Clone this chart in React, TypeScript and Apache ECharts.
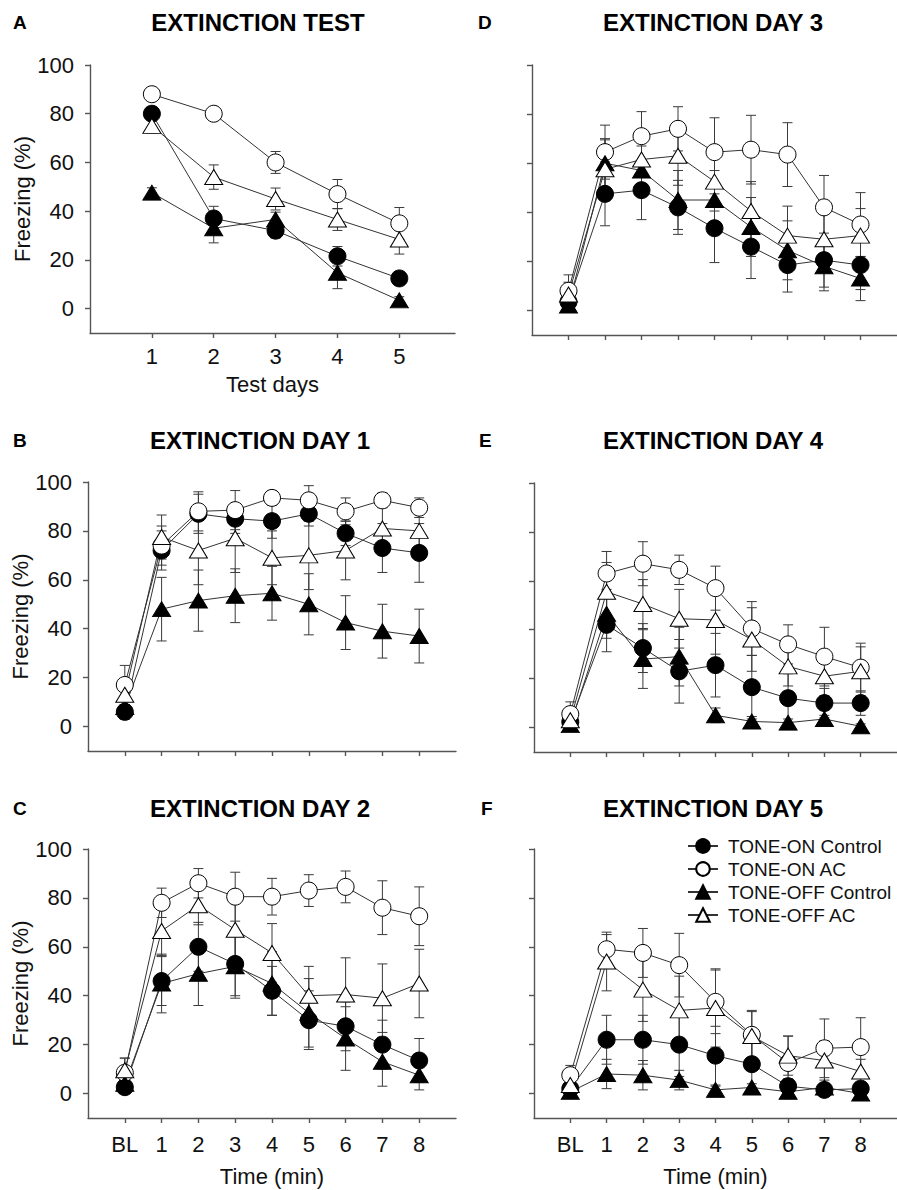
import React, { useEffect, useRef } from "react";
import * as echarts from "echarts";

// ---------- categories / ticks ----------
const testDays = [1, 2, 3, 4, 5];
const minutes = [0, 1, 2, 3, 4, 5, 6, 7, 8]; // 0 = BL
const minuteLabels = ["BL", "1", "2", "3", "4", "5", "6", "7", "8"];
const yTicks = [0, 20, 40, 60, 80, 100];
const seriesNames = ["TONE-ON Control", "TONE-ON AC", "TONE-OFF Control", "TONE-OFF AC"];

// ---------- A: Extinction test ----------
const testOnCtrl = [80, 37, 32, 21.5, 12.4];
const testOnCtrlErr = [2, 5, 3, 4, 2];
const testOnAC = [88, 80, 60, 47, 35];
const testOnACErr = [2, 2, 4.5, 6, 6.5];
const testOffCtrl = [47.6, 33, 36.6, 14.7, 3.4];
const testOffCtrlErr = [2, 6, 3, 6.5, 1.5];
const testOffAC = [75, 54, 45, 36.6, 28.4];
const testOffACErr = [3, 5, 4.5, 4.5, 6];

// ---------- B: Extinction day 1 ----------
const d1OnCtrl = [6, 72, 87, 85, 84, 87, 79, 73, 71];
const d1OnCtrlErr = [3, 8, 8, 6, 7, 5, 5, 10, 12];
const d1OnAC = [17, 74, 88, 88.5, 93.5, 92.5, 88, 92.5, 89.5];
const d1OnACErr = [8, 8, 8, 8, 3, 6, 5.5, 3, 4];
const d1OffCtrl = [8, 48, 51.5, 53.5, 54.5, 50, 42.5, 39, 37];
const d1OffCtrlErr = [3, 13, 12.5, 11, 11, 12.5, 11, 11, 11];
const d1OffAC = [13, 77.5, 72, 77, 69, 70, 72, 81, 80];
const d1OffACErr = [5, 9, 14, 14, 11, 14, 12, 10, 8];

// ---------- C: Extinction day 2 ----------
const d2OnCtrl = [2.6, 46, 60, 53, 42, 30, 27.5, 20, 13.5];
const d2OnCtrlErr = [2, 10, 10, 13, 10, 12, 10, 10, 9];
const d2OnAC = [8.5, 78, 86, 80.5, 80.5, 83, 84.5, 76, 72.5];
const d2OnACErr = [6, 6, 6, 10, 7.5, 6.5, 6.5, 11, 12];
const d2OffCtrl = [4, 45, 49, 52, 45, 33, 22.5, 13, 7.5];
const d2OffCtrlErr = [3, 12, 13, 13, 13, 14, 13, 10, 6];
const d2OffAC = [9.5, 66.5, 77, 67, 57.5, 40, 40.5, 39, 45];
const d2OffACErr = [5, 10, 8, 12, 12, 12, 15, 14, 14];

// ---------- D: Extinction day 3 ----------
const d3OnCtrl = [3.5, 47.5, 49, 42, 33.5, 26, 18.5, 20.5, 18.5];
const d3OnCtrlErr = [3, 13, 12, 11, 14, 13, 11, 11, 10];
const d3OnAC = [8, 64.5, 71, 74, 64.5, 65.5, 63.5, 42, 35];
const d3OnACErr = [6.5, 11, 10, 9, 14, 14, 13, 13, 13];
const d3OffCtrl = [2, 60, 57, 45, 45, 34, 24.5, 18, 13];
const d3OffCtrlErr = [2, 10, 10, 12, 12, 12, 12, 10, 9];
const d3OffAC = [6.5, 57.5, 61.5, 63, 52.5, 40.5, 30.5, 29, 30.5];
const d3OffACErr = [5, 12, 12, 12, 12, 12, 12, 11, 11];

// ---------- E: Extinction day 4 ----------
const d4OnCtrl = [2.3, 42, 32.5, 23, 25.5, 16.5, 12, 10, 10];
const d4OnCtrlErr = [2, 11, 10, 13, 13, 13, 10, 6, 5];
const d4OnAC = [5.5, 63, 67, 64.5, 57, 40.5, 34, 29, 24.5];
const d4OnACErr = [5, 9, 9, 6, 9, 11, 8, 12, 10];
const d4OffCtrl = [1, 46.5, 28, 29, 5, 2.5, 2, 3.5, 0.5];
const d4OffCtrlErr = [1, 10, 12, 12, 3, 2, 1.5, 1.5, 1];
const d4OffAC = [3, 55.5, 50.5, 44.5, 44, 36, 25, 21, 23];
const d4OffACErr = [4, 12, 10, 12, 14, 13, 8, 8, 10];

// ---------- F: Extinction day 5 ----------
const d5OnCtrl = [2, 22, 22, 20, 15.5, 12, 3, 1.5, 2];
const d5OnCtrlErr = [2, 10, 10, 13, 12, 10, 3, 2, 2];
const d5OnAC = [7.5, 59, 57.5, 52.5, 37.5, 24, 12.5, 18.5, 19];
const d5OnACErr = [4, 6, 10, 13, 13, 10, 11, 12, 12];
const d5OffCtrl = [0.7, 8, 7.5, 5.5, 1.5, 2.5, 0.7, 2.5, 0];
const d5OffCtrlErr = [1, 6, 6, 4, 1.5, 1.5, 1, 1.5, 0.5];
const d5OffAC = [3.5, 54, 42.5, 34, 35, 23.5, 15.5, 13.5, 9];
const d5OffACErr = [3, 12, 13, 14, 16, 10, 8, 8, 5];

const FONT = '"Liberation Sans", Arial, sans-serif';

type Panel = {
  letter: string;
  title: string;
  x: number[];
  means: number[][];
  errs: number[][];
  grid: { left: number; top: number; width: number; height: number };
  titleX: number;
  titleY: number;
  letterX: number;
  showYLabels: boolean;
  showXLabels: boolean;
  xName: string;
  xNameGap: number;
  xMin: number;
  xMax: number;
  xLabelMargin: number;
};

const panels: Panel[] = [
  {
    letter: "A", title: "EXTINCTION TEST", x: testDays,
    means: [testOnCtrl, testOnAC, testOffCtrl, testOffAC],
    errs: [testOnCtrlErr, testOnACErr, testOffCtrlErr, testOffACErr],
    grid: { left: 90, top: 65, width: 365, height: 268 },
    titleX: 258, titleY: 22, letterX: 13, showYLabels: true, showXLabels: true,
    xName: "Test days", xNameGap: 40, xMin: 0, xMax: 5.9, xLabelMargin: 12,
  },
  {
    letter: "B", title: "EXTINCTION DAY 1", x: minutes,
    means: [d1OnCtrl, d1OnAC, d1OffCtrl, d1OffAC],
    errs: [d1OnCtrlErr, d1OnACErr, d1OffCtrlErr, d1OffACErr],
    grid: { left: 88, top: 482, width: 368, height: 269 },
    titleX: 260, titleY: 440, letterX: 13, showYLabels: true, showXLabels: false,
    xName: "", xNameGap: 0, xMin: -1, xMax: 9, xLabelMargin: 13,
  },
  {
    letter: "C", title: "EXTINCTION DAY 2", x: minutes,
    means: [d2OnCtrl, d2OnAC, d2OffCtrl, d2OffAC],
    errs: [d2OnCtrlErr, d2OnACErr, d2OffCtrlErr, d2OffACErr],
    grid: { left: 88, top: 849, width: 368, height: 269 },
    titleX: 260, titleY: 808, letterX: 13, showYLabels: true, showXLabels: true,
    xName: "Time (min)", xNameGap: 47, xMin: -1, xMax: 9, xLabelMargin: 15,
  },
  {
    letter: "D", title: "EXTINCTION DAY 3", x: minutes,
    means: [d3OnCtrl, d3OnAC, d3OffCtrl, d3OffAC],
    errs: [d3OnCtrlErr, d3OnACErr, d3OffCtrlErr, d3OffACErr],
    grid: { left: 532, top: 65, width: 369, height: 270 },
    titleX: 713, titleY: 22, letterX: 478, showYLabels: false, showXLabels: false,
    xName: "", xNameGap: 0, xMin: -1, xMax: 9, xLabelMargin: 13,
  },
  {
    letter: "E", title: "EXTINCTION DAY 4", x: minutes,
    means: [d4OnCtrl, d4OnAC, d4OffCtrl, d4OffAC],
    errs: [d4OnCtrlErr, d4OnACErr, d4OffCtrlErr, d4OffACErr],
    grid: { left: 534, top: 483, width: 369, height: 269 },
    titleX: 713, titleY: 440, letterX: 479, showYLabels: false, showXLabels: false,
    xName: "", xNameGap: 0, xMin: -1, xMax: 9, xLabelMargin: 13,
  },
  {
    letter: "F", title: "EXTINCTION DAY 5", x: minutes,
    means: [d5OnCtrl, d5OnAC, d5OffCtrl, d5OffAC],
    errs: [d5OnCtrlErr, d5OnACErr, d5OffCtrlErr, d5OffACErr],
    grid: { left: 534, top: 849, width: 369, height: 269 },
    titleX: 713, titleY: 808, letterX: 481, showYLabels: false, showXLabels: true,
    xName: "Time (min)", xNameGap: 47, xMin: -1, xMax: 9, xLabelMargin: 15,
  },
];

const symbols = ["circle", "circle", "triangle", "triangle"];
const symbolSizes: any[] = [17, 17, [18, 15], [18, 15]];
const fills = ["#000000", "#ffffff", "#000000", "#ffffff"];

function buildOption() {
  const grid: any[] = [];
  const xAxis: any[] = [];
  const yAxis: any[] = [];
  const series: any[] = [];
  const graphic: any[] = [];
  const axisLineStyle = { color: "#555555", width: 1.4 };

  panels.forEach((p, i) => {
    grid.push({ ...p.grid, containLabel: false });
    const isMinute = p.x === minutes;
    xAxis.push({
      type: "value",
      gridIndex: i,
      min: p.xMin,
      max: p.xMax,
      axisLine: { show: true, onZero: false, lineStyle: axisLineStyle },
      axisTick: { show: true, length: 5, inside: false, customValues: p.x, lineStyle: axisLineStyle },
      splitLine: { show: false },
      axisLabel: {
        show: p.showXLabels,
        customValues: p.x,
        margin: p.xLabelMargin,
        fontSize: 22,
        fontFamily: FONT,
        color: "#111111",
        formatter: (v: number) => (isMinute ? minuteLabels[minutes.indexOf(v)] ?? "" : String(v)),
      },
      name: p.xName,
      nameLocation: "middle",
      nameGap: p.xNameGap,
      nameTextStyle: { fontSize: 22, fontFamily: FONT, color: "#111111" },
    });
    yAxis.push({
      type: "value",
      gridIndex: i,
      min: -10,
      max: 100,
      axisLine: { show: true, onZero: false, lineStyle: axisLineStyle },
      axisTick: { show: true, length: 5, inside: false, customValues: yTicks, lineStyle: axisLineStyle },
      splitLine: { show: false },
      axisLabel: {
        show: p.showYLabels,
        customValues: yTicks,
        margin: 16,
        fontSize: 22,
        fontFamily: FONT,
        color: "#111111",
      },
      name: p.showYLabels ? "Freezing (%)" : "",
      nameLocation: "middle",
      nameGap: 56,
      nameTextStyle: { fontSize: 22, fontFamily: FONT, color: "#111111" },
    });

    // error bars
    p.means.forEach((m, k) => {
      series.push({
        type: "custom",
        xAxisIndex: i,
        yAxisIndex: i,
        z: 2,
        silent: true,
        encode: { x: 0, y: 1 },
        data: p.x.map((xv, j) => [xv, m[j], p.errs[k][j]]),
        renderItem: (params: any, api: any) => {
          const xv = api.value(0);
          const yv = api.value(1);
          const e = api.value(2);
          const top = api.coord([xv, yv + e]);
          const bot = api.coord([xv, yv - e]);
          const hw = 5;
          const st = { stroke: "#3a3a3a", lineWidth: 1 };
          return {
            type: "group",
            children: [
              { type: "line", shape: { x1: top[0], y1: top[1], x2: bot[0], y2: bot[1] }, style: st },
              { type: "line", shape: { x1: top[0] - hw, y1: top[1], x2: top[0] + hw, y2: top[1] }, style: st },
              { type: "line", shape: { x1: bot[0] - hw, y1: bot[1], x2: bot[0] + hw, y2: bot[1] }, style: st },
            ],
          };
        },
      });
    });
    // lines + markers
    p.means.forEach((m, k) => {
      series.push({
        type: "line",
        name: seriesNames[k],
        xAxisIndex: i,
        yAxisIndex: i,
        z: 3,
        data: p.x.map((xv, j) => [xv, m[j]]),
        symbol: symbols[k],
        symbolSize: symbolSizes[k],
        showAllSymbol: true,
        lineStyle: { color: "#333333", width: 1 },
        itemStyle: { color: fills[k], borderColor: "#000000", borderWidth: 1 },
        emphasis: { disabled: true },
      });
    });

    graphic.push({
      type: "text",
      x: p.titleX,
      y: p.titleY,
      style: {
        text: p.title,
        fontSize: 24,
        fontWeight: "bold",
        fontFamily: FONT,
        fill: "#000000",
        textAlign: "center",
        textVerticalAlign: "middle",
        align: "center",
        verticalAlign: "middle",
      },
    });
    graphic.push({
      type: "text",
      x: p.letterX,
      y: p.titleY,
      style: {
        text: p.letter,
        fontSize: 19,
        fontWeight: "bold",
        fontFamily: FONT,
        fill: "#000000",
        textAlign: "left",
        textVerticalAlign: "middle",
        align: "left",
        verticalAlign: "middle",
      },
    });
  });

  return {
    animation: false,
    backgroundColor: "#ffffff",
    grid,
    xAxis,
    yAxis,
    series,
    graphic,
    legend: {
      show: true,
      orient: "vertical",
      left: 682,
      top: 831,
      itemWidth: 30,
      itemHeight: 17,
      itemGap: 3,
      selectedMode: false,
      data: seriesNames,
      textStyle: { fontSize: 19, fontFamily: FONT, color: "#111111", lineHeight: 20, padding: [0, 0, 0, 5] },
    },
  };
}

export default function App() {
  const ref = useRef<HTMLDivElement>(null);
  useEffect(() => {
    document.body.style.margin = "0";
    if (!ref.current) return;
    const chart = echarts.init(ref.current, undefined, { renderer: "svg" });
    chart.setOption(buildOption() as any);
    return () => chart.dispose();
  }, []);
  return <div ref={ref} style={{ width: 897, height: 1190, background: "#fff" }} />;
}
